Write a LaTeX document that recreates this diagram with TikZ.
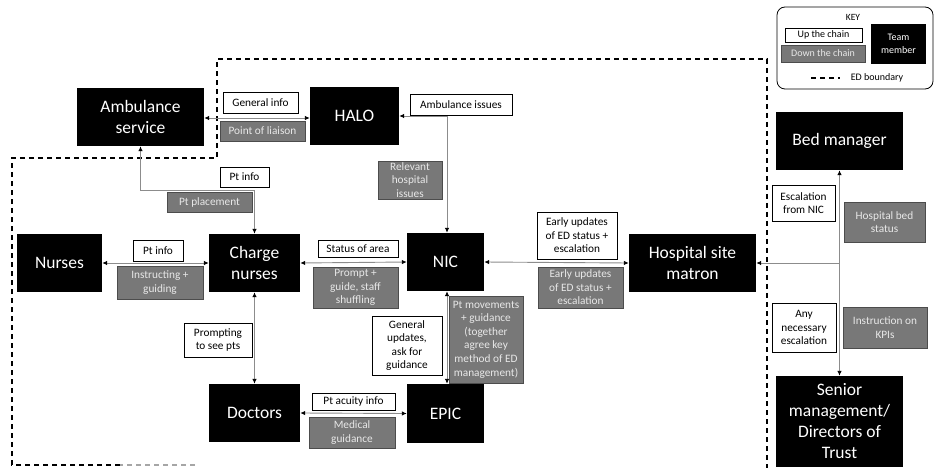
\documentclass[tikz,border=0pt]{standalone}
\usepackage{fontspec}
\setmainfont{Carlito}
\usetikzlibrary{arrows.meta,calc}
\definecolor{lnk}{HTML}{8C8C8C}
\definecolor{dn}{HTML}{787878}
\definecolor{dntext}{HTML}{E8E8E8}
\tikzset{
  member/.style={fill=black,text=white,font=\fontsize{17.5}{21}\selectfont,align=center,inner sep=0pt},
  up/.style={draw=black,fill=white,line width=0.8pt,font=\fontsize{11.3}{13.6}\selectfont,align=center,inner sep=0pt},
  down/.style={draw=black!70,fill=dn,text=dntext,line width=0.8pt,font=\fontsize{11.3}{13.6}\selectfont,align=center,inner sep=0pt},
  conn/.style={draw=lnk,line width=0.9pt,arrows={-{Latex[black,length=5pt,width=4.5pt]}}},
  conn2/.style={draw=lnk,line width=0.9pt,arrows={{Latex[black,length=5pt,width=4.5pt]}-{Latex[black,length=5pt,width=4.5pt]}}},
  edb/.style={draw=black,line width=1.3pt,dash pattern=on 5pt off 4pt},
}
\begin{document}
\begin{tikzpicture}[x=1pt,y=-1pt]
\useasboundingbox (0,0) rectangle (934,468);
% ED boundary
\draw[edb] (120,465) -- (12,465) -- (12,158) -- (217,158) -- (217,59) -- (767,59) -- (767,468);
\draw[edb,draw=black!35] (195,465) -- (120,465);
% team members
\node[member,minimum width=127,minimum height=58] (amb) at (140.5,117) {Ambulance\\service};
\node[member,minimum width=89,minimum height=58] (halo) at (354.5,116) {HALO};
\node[member,minimum width=77,minimum height=58] (nic) at (445.5,262) {NIC};
\node[member,minimum width=91,minimum height=58] (charge) at (254.5,263) {Charge\\nurses};
\node[member,minimum width=85,minimum height=58] (nurses) at (59.5,263) {Nurses};
\node[member,minimum width=91,minimum height=58] (doctors) at (254.5,413) {Doctors};
\node[member,minimum width=77,minimum height=59] (epic) at (445.5,413.5) {EPIC};
\node[member,minimum width=127,minimum height=58] (matron) at (692.5,263) {Hospital site\\matron};
\node[member,minimum width=127,minimum height=58] (bed) at (839.5,141) {Bed manager};
\node[member,minimum width=127,minimum height=91] (senior) at (839.5,421.5) {Senior\\management/\\Directors of\\Trust};
% connectors
\draw[conn2] (amb.east |- 0,118) -- (halo.west |- 0,118);
\draw[conn2] (halo.east) -- (447,116) coordinate (hn) -- (nic.north -| hn);
\draw[conn2] (amb.south) -- ++(0,44) -| (charge.north);
\draw[conn2] (nurses.east) -- (charge.west);
\draw[conn2] (charge.east) -- (nic.west);
\draw[conn2] (nic.east) -- (matron.west);
\draw[conn2] (charge.south) -- (doctors.north);
\draw[conn2] (doctors.east) -- (epic.west);
\draw[conn2] (epic.north -| 447,0) coordinate (ep) -- (nic.south -| ep);
\draw[conn2] (bed.south) -- (senior.north);
\draw[conn] (matron.east -| bed.south) -- (matron.east);
% labels
\node[up,minimum width=75,minimum height=21] (l1) at (260.5,102.5) {General info};
\node[down,minimum width=85,minimum height=20] (l2) at (262.5,131) {Point of liaison};
\node[up,minimum width=102,minimum height=21] (l3) at (461,104.5) {Ambulance issues};
\node[down,minimum width=64,minimum height=38] (l4) at (410,180) {Relevant\\hospital\\issues};
\node[up,minimum width=49,minimum height=20] (l5) at (244.5,177) {Pt info};
\node[down,minimum width=85,minimum height=20] (l6) at (209.5,202) {Pt placement};
\node[up,minimum width=50,minimum height=21] (l7) at (158,250.5) {Pt info};
\node[down,minimum width=86,minimum height=33] (l8) at (160,282.5) {Instructing +\\guiding};
\node[up,minimum width=80,minimum height=17] (l9) at (358,249) {Status of area};
\node[down,minimum width=85,minimum height=41] (l10) at (355.5,287.5) {Prompt +\\guide, staff\\shuffling};
\node[up,minimum width=80,minimum height=47] (l11) at (577,235.5) {Early updates\\of ED status +\\escalation};
\node[down,minimum width=85,minimum height=41] (l12) at (580.5,287.5) {Early updates\\of ED status +\\escalation};
\node[up,minimum width=68,minimum height=34] (l13) at (218,340) {Prompting\\to see pts};
\node[up,minimum width=70,minimum height=59] (l14) at (407,345.5) {General\\updates,\\ask for\\guidance};
\node[down,minimum width=74,minimum height=87] (l15) at (486,339.5) {Pt movements\\+ guidance\\(together\\agree key\\method of ED\\management)};
\node[up,minimum width=83,minimum height=17] (l16) at (353.5,401.5) {Pt acuity info};
\node[down,minimum width=86,minimum height=31] (l17) at (352,432.5) {Medical\\guidance};
\node[up,minimum width=63,minimum height=36] (l18) at (803.5,203) {Escalation\\from NIC};
\node[down,minimum width=81,minimum height=40] (l19) at (884.5,222) {Hospital bed\\status};
\node[up,minimum width=64,minimum height=49] (l20) at (804,327.5) {Any\\necessary\\escalation};
\node[down,minimum width=84,minimum height=41] (l21) at (885,327.5) {Instruction on\\KPIs};
% key
\draw[line width=0.8pt,rounded corners=8pt] (777,7) rectangle (933,89);
\node[font=\fontsize{9.5}{11}\selectfont,inner sep=0pt] (keyt) at (853,17) {KEY};
\node[up,font=\fontsize{10}{12}\selectfont,minimum width=77,minimum height=14] (k1) at (823.5,35) {Up the chain};
\node[down,font=\fontsize{10}{12}\selectfont,minimum width=84,minimum height=17] (k2) at (823,53.5) {Down the chain};
\node[member,font=\fontsize{10}{12.5}\selectfont,minimum width=55,minimum height=40] (k3) at (898.5,44) {Team\\member};
\draw[edb,line width=1.1pt,dash pattern=on 5pt off 4pt] (811,78) coordinate (kd1) -- (840,78) coordinate (kd2);
\node[font=\fontsize{10}{12}\selectfont,inner sep=0pt] (k4) at (877,78) {ED boundary};
\end{tikzpicture}
\end{document}
